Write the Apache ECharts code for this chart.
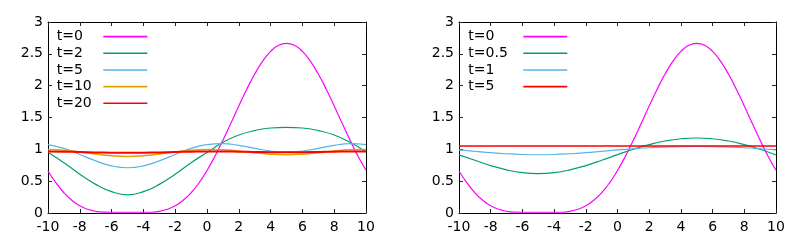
<!DOCTYPE html>
<html><head><meta charset="utf-8">
<script src="https://cdn.jsdelivr.net/npm/echarts@6/dist/echarts.min.js"></script>
<style>html,body{margin:0;padding:0;background:#fff}#c{width:806px;height:247px}</style>
</head><body><div id="c"></div>
<script>
// x positions
const xs = [-10,-9,-8,-7,-6,-5,-4,-3,-2,-1,0,1,2,3,4,5,6,7,8,9,10];
const xsFine = [-10,-9.5,-9,-8.5,-8,-7.5,-7,-6.5,-6,-5.5,-5,-4.5,-4,-3.5,-3,-2.5,-2,-1.5,-1,-0.5,0,0.5,1,1.5,2,2.5,3,3.5,4,4.5,5,5.5,6,6.5,7,7.5,8,8.5,9,9.5,10];
const xTicks = [-10,-8,-6,-4,-2,0,2,4,6,8,10];
const yTicks = [0,0.5,1,1.5,2,2.5,3];

// initial profile (same in both panels), on xsFine
const t0 = [0.66,0.474,0.318,0.199,0.113,0.058,0.026,0.014,0.012,0.012,0.012,0.012,0.012,0.012,0.026,0.058,0.113,0.199,0.318,0.474,0.667,0.892,1.142,1.409,1.681,1.943,2.182,2.384,2.538,2.634,2.665,2.634,2.538,2.384,2.182,1.943,1.681,1.409,1.142,0.892,0.672];

// left panel, on xs
const leftT2  = [0.955,0.79,0.61,0.45,0.335,0.285,0.335,0.45,0.61,0.79,0.95,1.11,1.225,1.295,1.335,1.345,1.335,1.295,1.225,1.11,0.96];
const leftT5  = [1.075,1.014,0.919,0.818,0.740,0.711,0.740,0.818,0.919,1.014,1.075,1.090,1.063,1.016,0.973,0.956,0.973,1.016,1.063,1.090,1.075];
const leftT10 = [0.998,0.985,0.957,0.925,0.899,0.889,0.899,0.925,0.957,0.985,0.998,0.993,0.972,0.946,0.924,0.915,0.924,0.946,0.972,0.993,0.998];
const leftT20 = [0.966,0.963,0.958,0.952,0.947,0.945,0.947,0.952,0.958,0.963,0.966,0.966,0.963,0.960,0.956,0.955,0.956,0.960,0.963,0.966,0.966];

// right panel, on xs
const rightT05 = [0.912,0.828,0.745,0.678,0.633,0.618,0.633,0.678,0.745,0.828,0.916,1.001,1.074,1.131,1.166,1.178,1.166,1.131,1.074,1.001,0.912];
const rightT1  = [0.99,0.969,0.948,0.931,0.919,0.915,0.919,0.931,0.948,0.969,0.99,1.009,1.025,1.036,1.043,1.045,1.043,1.036,1.025,1.009,0.99];
const rightT5  = [1.052,1.052,1.052,1.052,1.052,1.052,1.052,1.052,1.052,1.052,1.052,1.052,1.052,1.052,1.052,1.052,1.052,1.052,1.052,1.052,1.052];

const leftNames = ['t=0','t=2','t=5','t=10','t=20'];
const rightNames = ['t=0 ','t=0.5','t=1','t=5 '];

const FONT = 'DejaVu Sans';
const FS = 14;
const C = {mag:'#ff00ff', grn:'#009e73', blu:'#56b4e9', org:'#e69f00', red:'#ff0000'};

function pairs(x, y){ return x.map((v,i)=>[v,y[i]]); }

const grids = [
  {left:48, top:22, width:318, height:191},
  {left:459, top:22, width:317, height:191}
];

const xAxis = [], yAxis = [];
grids.forEach((g,gi)=>{
  ['bottom','top'].forEach(pos=>{
    xAxis.push({type:'value', gridIndex:gi, position:pos, min:-10, max:10, interval:2,
      axisLine:{show:true, onZero:false, lineStyle:{color:'#000', width:1}},
      axisTick:{show:true, inside:true, length:4, lineStyle:{color:'#222'}},
      axisLabel:{show:pos==='bottom', margin:7, color:'#000', fontFamily:FONT, fontSize:FS,
        formatter:v=>xTicks.includes(v)?String(v):''},
      splitLine:{show:false}});
  });
  ['left','right'].forEach(pos=>{
    yAxis.push({type:'value', gridIndex:gi, position:pos, min:0, max:3, interval:0.5,
      axisLine:{show:true, onZero:false, lineStyle:{color:'#000', width:1}},
      axisTick:{show:true, inside:true, length:4, lineStyle:{color:'#222'}},
      axisLabel:{show:pos==='left', margin:5, color:'#000', fontFamily:FONT, fontSize:FS,
        formatter:v=>yTicks.includes(v)?String(v):''},
      splitLine:{show:false}});
  });
});

function ser(name, gi, x, y, color, w){
  return {name, type:'line', xAxisIndex:gi*2, yAxisIndex:gi*2, data:pairs(x,y),
    showSymbol:false, symbol:'none', smooth:0.5, animation:false,
    lineStyle:{color, width:w}, itemStyle:{color}};
}

const series = [
  ser(leftNames[0],0,xsFine,t0,C.mag,1.2),
  ser(leftNames[1],0,xs,leftT2,C.grn,1.2),
  ser(leftNames[2],0,xs,leftT5,C.blu,1.2),
  ser(leftNames[3],0,xs,leftT10,C.org,1.5),
  ser(leftNames[4],0,xs,leftT20,C.red,2),
  ser(rightNames[0],1,xsFine,t0,C.mag,1.2),
  ser(rightNames[1],1,xs,rightT05,C.grn,1.2),
  ser(rightNames[2],1,xs,rightT1,C.blu,1.2),
  ser(rightNames[3],1,xs,rightT5,C.red,1.5)
];

function legend(names, left, textW){
  return {orient:'vertical', left, top:28.3, padding:0, itemGap:0, itemWidth:44, itemHeight:1.6,
    icon:'rect', align:'right', selectedMode:false, data:names,
    formatter:n=>'{a|'+n.trim()+'}',
    textStyle:{rich:{a:{width:textW, height:16.67, lineHeight:16.67, align:'left', color:'#000', fontFamily:FONT, fontSize:FS}}}};
}

const chart = echarts.init(document.getElementById('c'), null, {renderer:'canvas'});
chart.setOption({
  animation:false,
  backgroundColor:'#fff',
  grid:grids,
  xAxis, yAxis, series,
  legend:[legend(leftNames,56.7,41.6), legend(rightNames,468.3,50)]
});
</script></body></html>
